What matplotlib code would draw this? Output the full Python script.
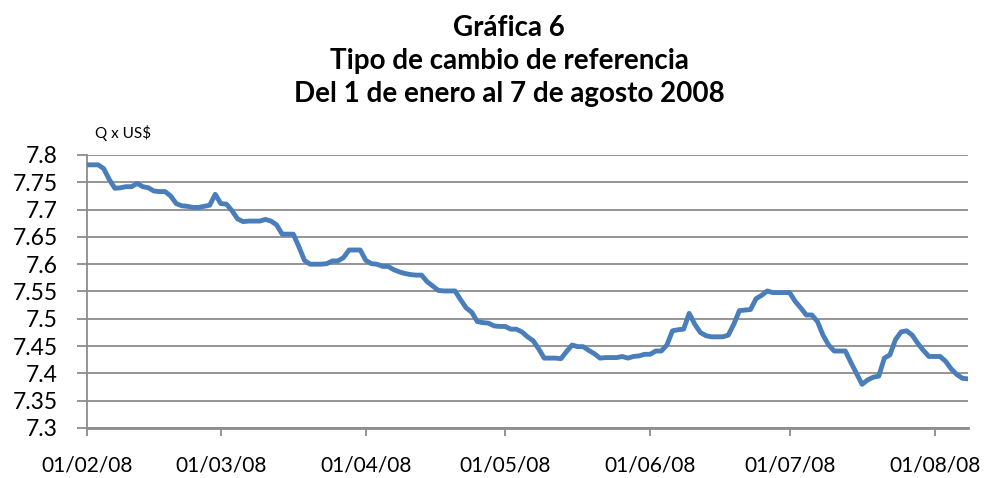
import matplotlib
matplotlib.use("Agg")
import matplotlib.pyplot as plt

# Tipo de cambio de referencia (Q por US$), un valor por dia habil
tipo_cambio = [
    7.782, 7.782, 7.782, 7.775, 7.755, 7.739, 7.740, 7.742, 7.742, 7.748,
    7.742, 7.740, 7.734, 7.733, 7.733, 7.725, 7.711, 7.707, 7.706, 7.704,
    7.704, 7.706, 7.708, 7.728, 7.711, 7.710, 7.698, 7.683, 7.678, 7.679,
    7.679, 7.679, 7.682, 7.679, 7.672, 7.655, 7.655, 7.655, 7.632, 7.607,
    7.600, 7.600, 7.600, 7.601, 7.606, 7.606, 7.612, 7.626, 7.626, 7.626,
    7.607, 7.601, 7.600, 7.596, 7.596, 7.590, 7.586, 7.583, 7.581, 7.580,
    7.580, 7.568, 7.560, 7.552, 7.551, 7.551, 7.551, 7.535, 7.520, 7.512,
    7.495, 7.493, 7.492, 7.487, 7.486, 7.486, 7.481, 7.481, 7.476, 7.467,
    7.460, 7.445, 7.428, 7.428, 7.428, 7.427, 7.440, 7.452, 7.449, 7.449,
    7.442, 7.436, 7.428, 7.429, 7.429, 7.429, 7.431, 7.428, 7.431, 7.432,
    7.435, 7.435, 7.441, 7.441, 7.452, 7.478, 7.480, 7.481, 7.510, 7.490,
    7.475, 7.469, 7.467, 7.467, 7.467, 7.470, 7.490, 7.515, 7.516, 7.517,
    7.537, 7.543, 7.551, 7.548, 7.548, 7.548, 7.548, 7.532, 7.520, 7.507,
    7.507, 7.495, 7.470, 7.452, 7.441, 7.441, 7.441, 7.420, 7.400, 7.380,
    7.388, 7.393, 7.395, 7.428, 7.434, 7.462, 7.476, 7.478, 7.470, 7.455,
    7.442, 7.431, 7.431, 7.431, 7.422, 7.408, 7.398, 7.391, 7.390,
]
# posiciones (dia habil) de las etiquetas del eje x
pos_etiquetas = [0, 24, 50, 75, 101, 126, 152]
etiquetas = ["01/02/08", "01/03/08", "01/04/08", "01/05/08",
             "01/06/08", "01/07/08", "01/08/08"]
y_ticks = [7.3, 7.35, 7.4, 7.45, 7.5, 7.55, 7.6, 7.65, 7.7, 7.75, 7.8]

plt.rcParams['font.family'] = ['Lato', 'DejaVu Sans']

fig = plt.figure(figsize=(9.87, 4.78), dpi=100)
ax = fig.add_axes([87/987, 1 - 428/478, (968 - 87)/987, (428 - 155)/478])

x = list(range(len(tipo_cambio)))
ax.plot(x, tipo_cambio, color='#4a7ebb', lw=3.5, solid_joinstyle='round', zorder=3)

ax.set_xlim(0, len(tipo_cambio) - 1)
ax.set_ylim(7.3, 7.8)
ax.set_yticks(y_ticks)
ax.set_yticklabels([f"{v:g}" for v in y_ticks], fontsize=16.5)
ax.set_xticks(pos_etiquetas)
ax.set_xticklabels(etiquetas, fontsize=15)

ax.grid(axis='y', color='#8c8c8c', lw=1.3)
ax.set_axisbelow(True)
for s in ['top', 'right']:
    ax.spines[s].set_visible(False)
ax.spines['left'].set_color('#8c8c8c')
ax.spines['left'].set_linewidth(1.3)
ax.spines['bottom'].set_color('#8c8c8c')
ax.spines['bottom'].set_linewidth(2)
ax.tick_params(axis='y', length=7, color='#8c8c8c', width=1.3, pad=14)
ax.tick_params(axis='x', length=6, color='#8c8c8c', width=1.3, pad=14)

fig.text(0.516, 0.968, "Gráfica 6\nTipo de cambio de referencia\nDel 1 de enero al 7 de agosto 2008",
         ha='center', va='top', fontsize=20, fontweight='bold', linespacing=1.32)
fig.text(95/987, 1 - 133/478, "Q x US$", ha='left', va='center', fontsize=11)

fig.savefig("out.png", dpi=100)
